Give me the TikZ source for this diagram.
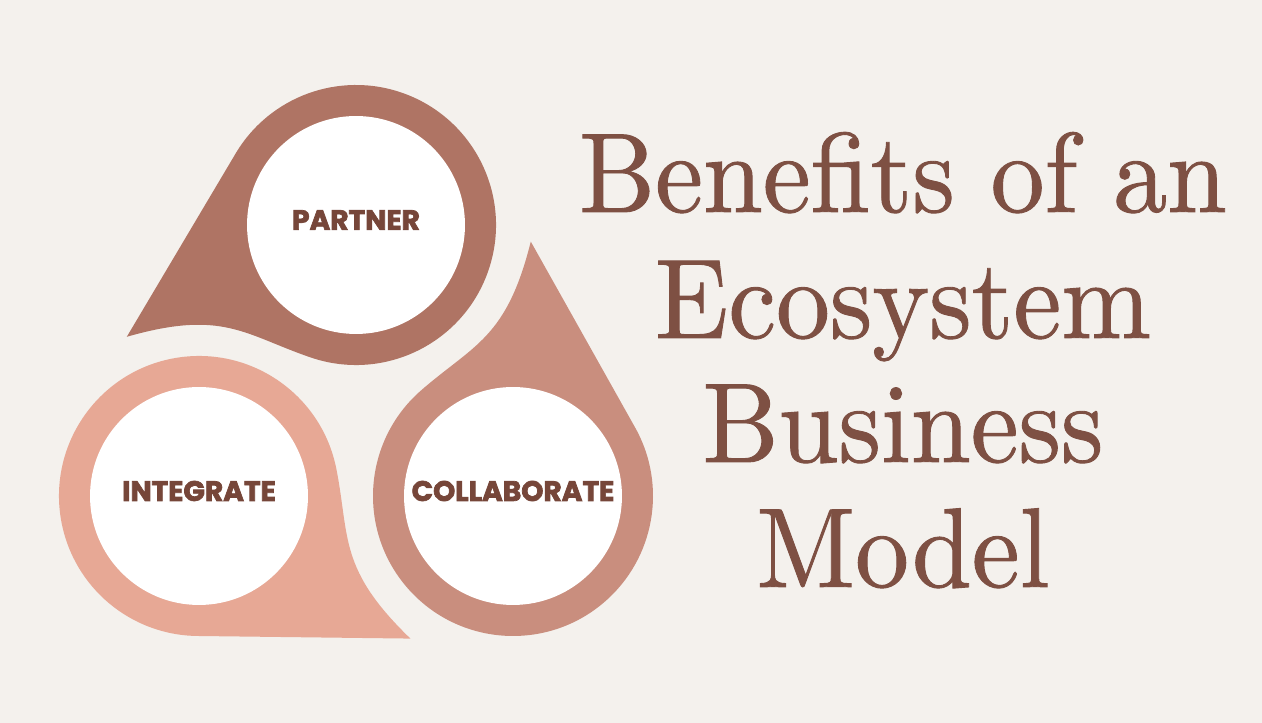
\documentclass[tikz,border=0pt]{standalone}
\usepackage{fontspec}
\newfontfamily\tagfont{Poppins}[FakeBold=2.6]
\newfontfamily\titlefont{lmroman10-regular.otf}[FakeStretch=0.95, FakeBold=0.8]

\definecolor{bgcream}{HTML}{F4F1ED}
\definecolor{partnerfill}{HTML}{AF7464}
\definecolor{collabfill}{HTML}{C98E7E}
\definecolor{integfill}{HTML}{E7A895}
\definecolor{tagbrown}{HTML}{764639}
\definecolor{titlebrown}{HTML}{7E5043}

\tikzset{
  disc/.style={circle, fill=white, minimum size=4.36cm, inner sep=0pt, outer sep=0pt},
  tag/.style={font=\tagfont\bfseries\fontsize{16}{16}\selectfont, text=tagbrown, yshift=0.1cm},
  headline/.style={font=\titlefont\fontsize{64.5}{70}\selectfont, text=titlebrown, anchor=base}
}

\begin{document}
\begin{tikzpicture}[x=0.02cm, y=0.02cm]

  % Background
  \fill[bgcream] (0,0) rectangle (1262,723);
  \useasboundingbox (0,0) rectangle (1262,723);

  % Drop centres
  \coordinate (ptop) at (356,498);
  \coordinate (pright) at (513,227);
  \coordinate (pleft) at (199,227);

  % Drops (circle with a tail)
  \fill[partnerfill, shift={(ptop)}, rotate=206]
    (255,0) .. controls (156.5,17.4) and (148.5,49.5) .. (45:140)
    arc[start angle=45, end angle=303, radius=140] -- cycle;
  \fill[collabfill, shift={(pright)}, rotate=86]
    (255,0) .. controls (156.5,17.4) and (148.5,49.5) .. (45:140)
    arc[start angle=45, end angle=303, radius=140] -- cycle;
  \fill[integfill, shift={(pleft)}, rotate=326]
    (255,0) .. controls (156.5,17.4) and (148.5,49.5) .. (45:140)
    arc[start angle=45, end angle=303, radius=140] -- cycle;

  % White discs
  \node[disc] (partnerdisc) at (ptop) {};
  \node[disc] (collabdisc) at (pright) {};
  \node[disc] (integdisc) at (pleft) {};

  % Labels
  \node[tag] (partner) at (partnerdisc) {PARTNER};
  \node[tag] (collab) at (collabdisc) {COLLABORATE};
  \node[tag] (integ) at (integdisc) {INTEGRATE};

  % Title
  \node[headline] (title1) at (903,511) {Benefits of an};
  \node[headline] (title2) at (903,385) {Ecosystem};
  \node[headline] (title3) at (903,261) {Business};
  \node[headline] (title4) at (903,136) {Model};

\end{tikzpicture}
\end{document}
